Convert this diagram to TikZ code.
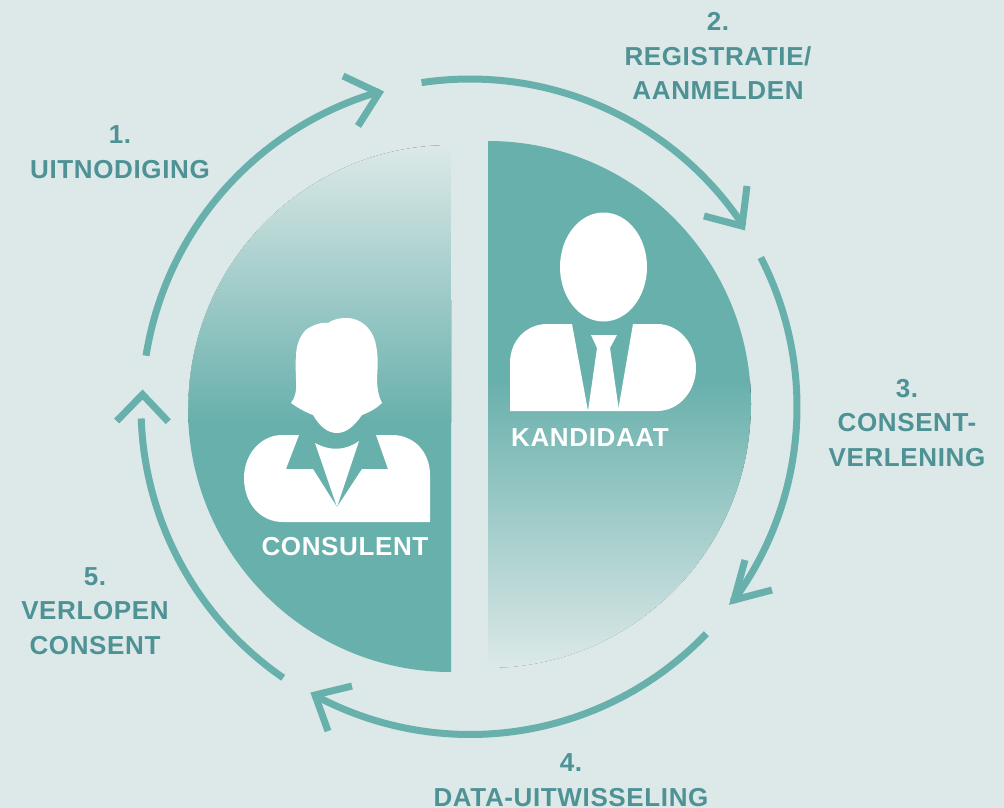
\documentclass[tikz,border=0pt]{standalone}
\usepackage{fontspec}
\newfontfamily\lab[LetterSpace=2.4]{Liberation Sans}
\definecolor{bgc}{HTML}{DCE9E8}
\definecolor{teal1}{HTML}{68B0AC}
\definecolor{labc}{HTML}{4F9295}
\tikzset{
  ring/.style={draw=teal1,line width=7pt,line cap=butt,line join=miter,miter limit=10},
  steplabel/.style={align=center,text=labc,inner sep=0pt,font=\lab\bfseries\fontsize{26}{34.4}\selectfont},
  rolelabel/.style={text=white,inner sep=0pt,font=\lab\bfseries\fontsize{26}{30}\selectfont},
  figure/.style={fill=white,draw=none}
}
\begin{document}
\begin{tikzpicture}[x=1pt,y=-1pt]
\useasboundingbox (0,0) rectangle (1004,808);
\fill[bgc] (0,0) rectangle (1004,808);
% left half disc
\begin{scope}
\clip (451,145) arc[start angle=90,end angle=270,x radius=263,y radius=-263.5] -- cycle;
\fill[top color=bgc,bottom color=teal1] (180,145) rectangle (460,422);
\fill[teal1] (180,421) rectangle (460,680);
\end{scope}
\draw[bgc,line width=1.4pt] (451.4,144) arc[start angle=90,end angle=180,x radius=264,y radius=-264];
\draw[bgc,line width=1.4pt] (451.7,145) -- (451.7,300);
% right half disc
\begin{scope}
\clip (488,141) arc[start angle=90,end angle=-90,x radius=263,y radius=-263.5] -- cycle;
\fill[teal1] (480,135) rectangle (760,381);
\fill[top color=teal1,bottom color=bgc] (480,380) rectangle (760,668);
\end{scope}
\draw[bgc,line width=1.4pt] (751.9,404.5) arc[start angle=0,end angle=-90,x radius=264,y radius=-264.3];
% ring arcs
\def\cx{470}\def\cy{407}
\draw[ring] plot[domain=171:106,samples=60,smooth] ({\cx+328*cos(\x)},{\cy-328*sin(\x)});
\draw[ring] plot[domain=98.5:33.5,samples=60,smooth] ({\cx+328*cos(\x)},{\cy-328*sin(\x)});
\draw[ring] plot[domain=27.2:-36.5,samples=60,smooth] ({\cx+327*cos(\x)},{\cy-327*sin(\x)});
\draw[ring] plot[domain=-43.8:-118.5,samples=60,smooth] ({\cx+327.5*cos(\x)},{\cy-327.5*sin(\x)});
\draw[ring] plot[domain=-124.6:-178,samples=60,smooth] ({\cx+329*cos(\x)},{\cy-329*sin(\x)});
% chevrons
\draw[ring] (343,76) -- (379,93) -- (358,126);
\draw[ring] (704,216) -- (742,226) -- (747,186);
\draw[ring] (772,590) -- (734,600) -- (745,560);
\draw[ring] (352,686) -- (315,695) -- (328,731);
\draw[ring] (116.7,421) -- (142.5,394.5) -- (168.3,421.7);
% woman
\fill[figure] (328,323) .. controls (322,322) and (315,324) .. (307,329)
  .. controls (300,335) and (296,345) .. (296,357)
  .. controls (295,365) and (296,372) .. (296,380)
  .. controls (297,390) and (295,398) .. (291,403)
  .. controls (298,408) and (305,412) .. (313,415)
  .. controls (320,427) and (328,433) .. (337,433)
  .. controls (347,433) and (355,425) .. (362,415)
  .. controls (370,412) and (377,408) .. (382,403)
  .. controls (378,395) and (377,387) .. (377,377)
  .. controls (378,365) and (378,355) .. (376,345)
  .. controls (373,328) and (360,318) .. (347,318)
  .. controls (338,318) and (332,320) .. (328,323) -- cycle;
\fill[figure] (299,435) -- (286,469) -- (313,469) -- (337,507) -- (362,469) -- (388,469) -- (376,435) -- (392,435)
  .. controls (414,435) and (430,452) .. (430,475) -- (430,522) -- (283,522)
  .. controls (260,522) and (244,503) .. (244,478)
  .. controls (244,453) and (262,435) .. (282,435) -- cycle;
\fill[figure] (315,443) .. controls (330,451) and (345,451) .. (359,441) -- (337,507) -- cycle;
% man
\fill[figure] (603.5,267) ellipse[x radius=43.5,y radius=54.5];
\fill[figure] (572,324) -- (588,411) -- (510,411) -- (510,363)
  .. controls (510,340) and (527,324) .. (547,324) -- cycle;
\fill[figure] (633,324) -- (618,411) -- (657,411)
  .. controls (680,411) and (696,390) .. (696,368)
  .. controls (696,345) and (680,324) .. (657,324) -- cycle;
\fill[figure] (591,335) -- (617,335) -- (610,348) -- (619,411) -- (588,411) -- (597,348) -- cycle;
% labels
\node[rolelabel] (consulent) at (345,546.5) {CONSULENT};
\node[rolelabel] (kandidaat) at (590,438) {KANDIDAAT};
\node[steplabel] (s1) at (120,152) {1.\\UITNODIGING};
\node[steplabel] (s2) at (718,56) {2.\\REGISTRATIE/\\AANMELDEN};
\node[steplabel] (s3) at (907,423) {3.\\CONSENT-\\VERLENING};
\node[steplabel] (s4) at (571,780) {4.\\DATA-UITWISSELING};
\node[steplabel] (s5) at (95,611) {5.\\VERLOPEN\\CONSENT};
\end{tikzpicture}
\end{document}
